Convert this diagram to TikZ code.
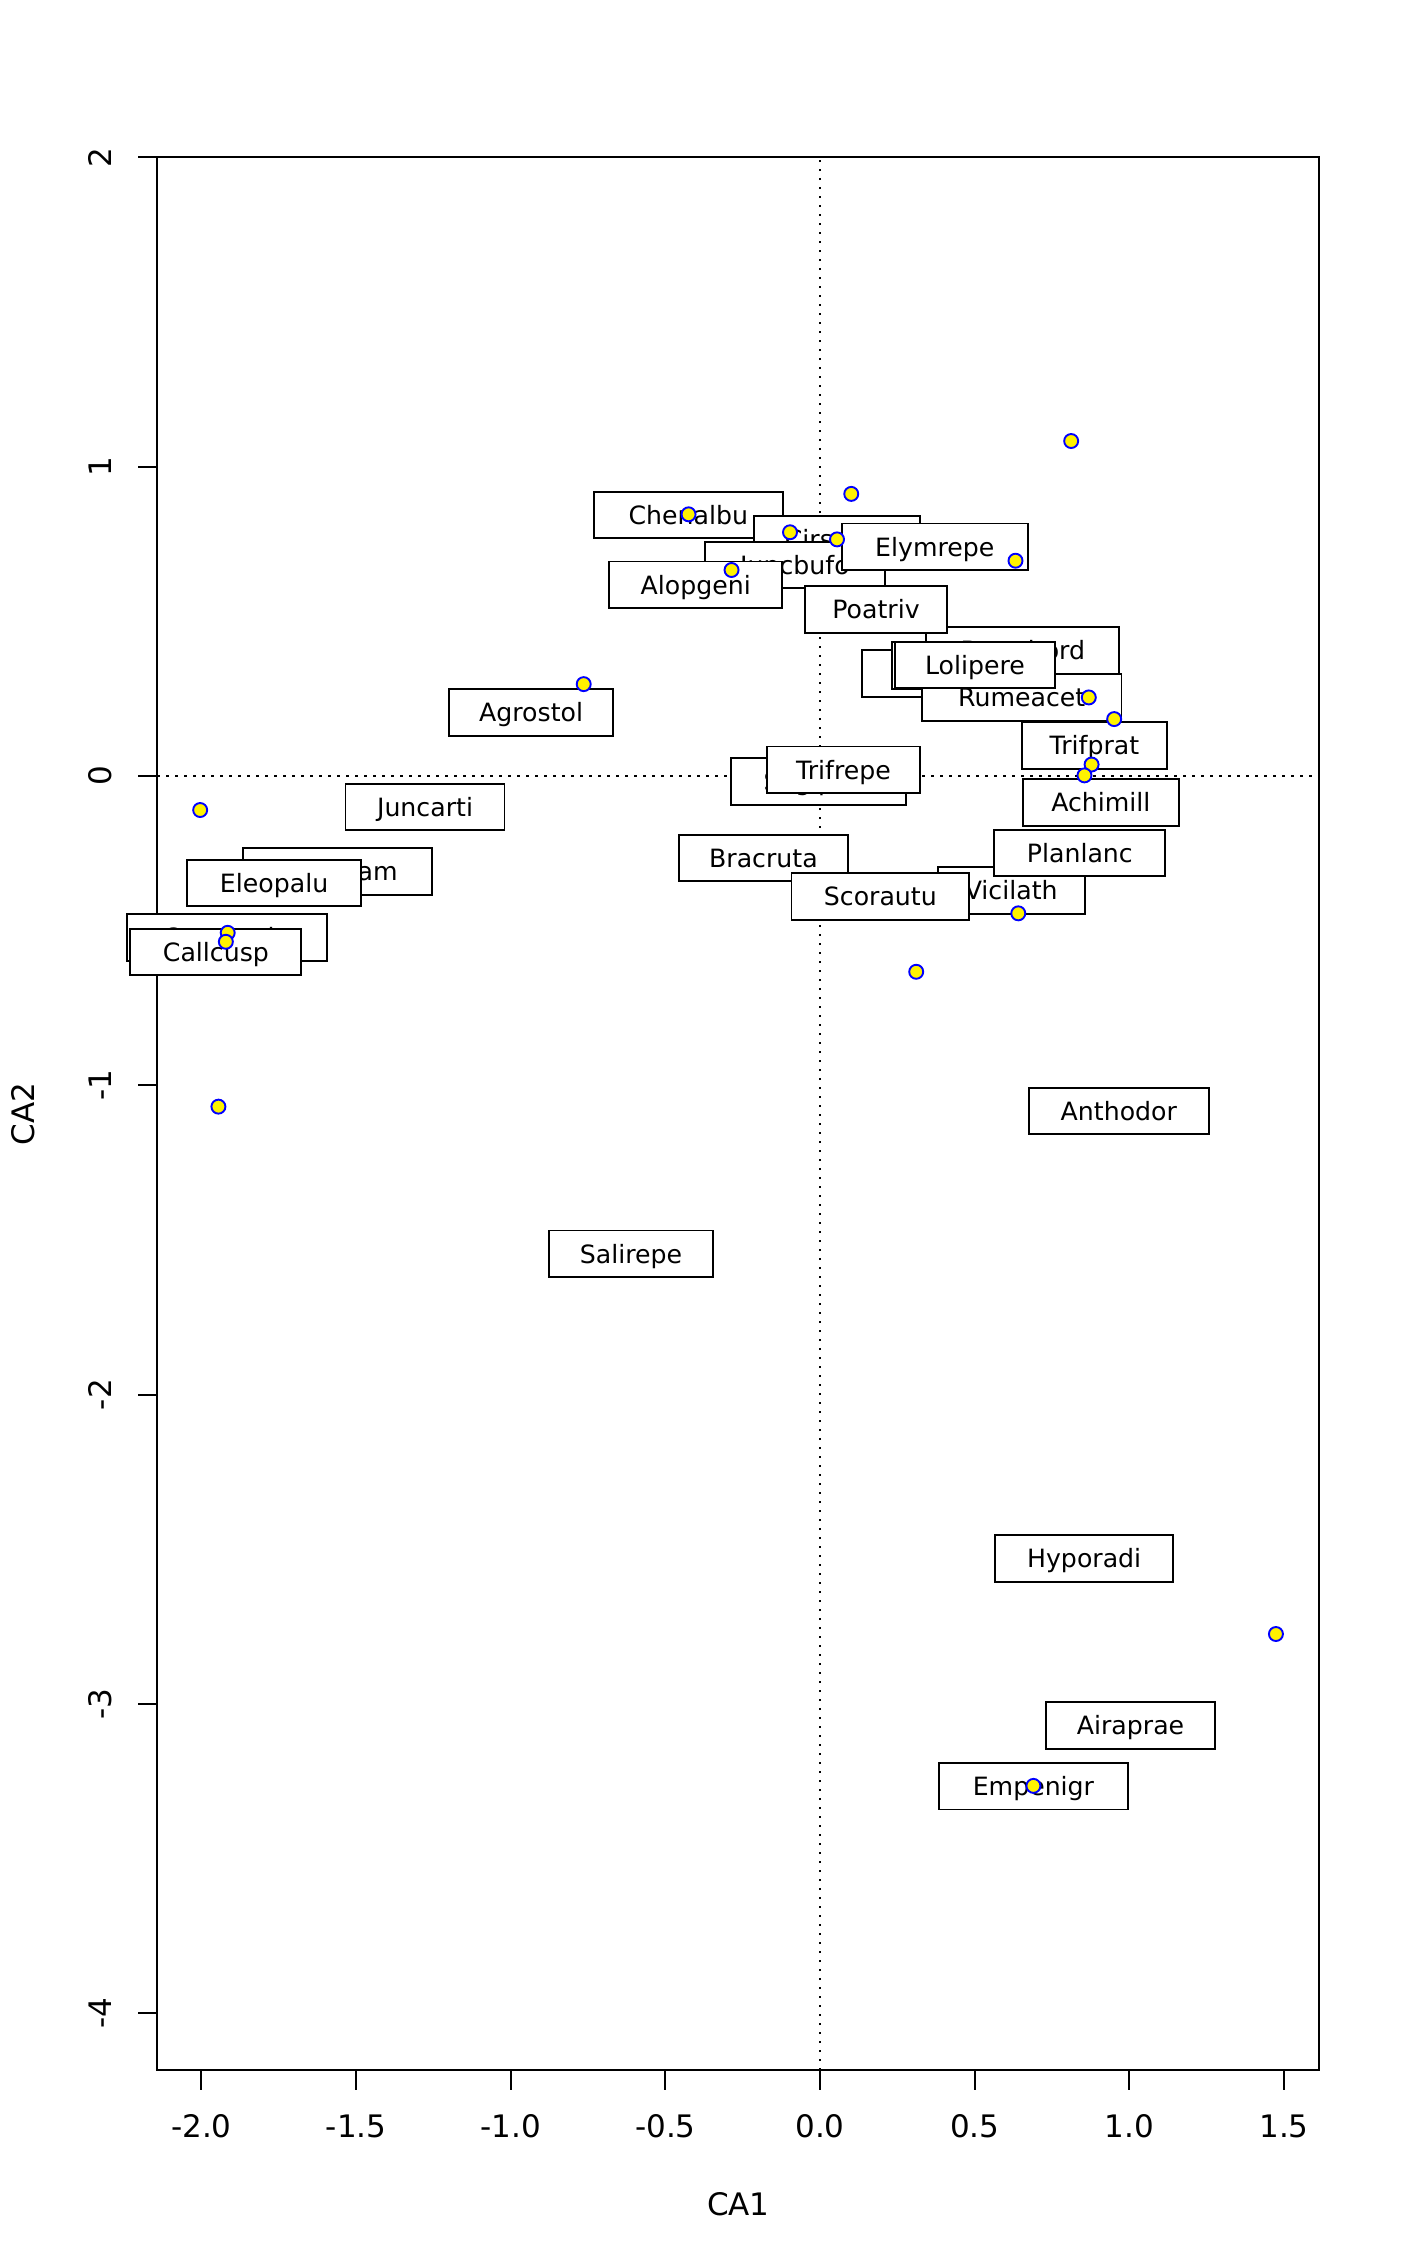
\documentclass[tikz,border=0pt]{standalone}
\usepackage{fontspec}
\setmainfont{DejaVu Sans}

\begin{document}
\begin{tikzpicture}[x=154.65pt, y=154.65pt,
    axisline/.style = {line width=0.95pt},
    zeroline/.style = {line width=0.95pt, dash pattern=on 1.2pt off 3.3pt},
    ticklab/.style = {inner sep=0pt, text height=11.3pt, text depth=0pt,
        font=\fontsize{15.5}{18}\selectfont},
    spec/.style = {draw, fill=white, line width=0.95pt, inner sep=0pt,
        minimum height=23.35pt, text height=9.2pt, text depth=0pt,
        font=\fontsize{12.6}{14}\selectfont},
    site/.style = {circle, draw=blue, fill=yellow, line width=0.95pt,
        inner sep=0pt, minimum size=7pt}]
\useasboundingbox (-2.6512,-4.8173) rectangle (1.8752,2.5089);

\draw[axisline] (-2.1426,-4.1837) rectangle (1.6143,2.0003);
\draw[zeroline] (0,-4.1837) -- (0,2.0003);
\draw[zeroline] (-2.1426,0) -- (1.6143,0);

\foreach \x/\t [count=\i] in {-2/-2.0, -1.5/-1.5, -1/-1.0, -0.5/-0.5,
    0/0.0, 0.5/0.5, 1/1.0, 1.5/1.5} {
    \draw[axisline] (\x,-4.1837) -- (\x,-4.2467);
    \node[ticklab] (xl\i) at (\x,-4.3647) {\t};
}
\foreach \y [count=\i] in {-4,...,2} {
    \draw[axisline] (-2.1426,\y) -- (-2.2056,\y);
    \node[ticklab, rotate=90] (yl\i) at (-2.3279,\y) {\y};
}
\node[ticklab] (xtitle) at (-0.264,-4.619) {CA1};
\node[ticklab, rotate=90] (ytitle) at (-2.576,-1.092) {CA2};

\foreach \n/\x/\y/\w in {
    Chenalbu/-0.426/0.844/94.35,
    Cirsarve/0.055/0.765/83.3,
    Juncbufo/-0.081/0.682/89.95,
    Elymrepe/0.371/0.741/93.2,
    Alopgeni/-0.402/0.618/86.65,
    Bromhord/0.656/0.406/96.5,
    Poatriv/0.181/0.539/71.2,
    Bellpere/0.403/0.331/82.25,
    Poaprat/0.489/0.358/78.95,
    Rumeacet/0.652/0.254/99.85,
    Lolipere/0.501/0.359/80.05,
    Trifprat/0.887/0.098/72.3,
    Achimill/0.908/-0.086/77.8,
    Agrostol/-0.934/0.206/82.25,
    Sagiproc/-0.005/-0.017/87.75,
    Trifrepe/0.076/0.020/76.5,
    Juncarti/-1.277/-0.100/79.5,
    Ranuflam/-1.560/-0.308/94.3,
    Eleopalu/-1.765/-0.346/86.65,
    Comapalu/-1.918/-0.523/99.85,
    Callcusp/-1.953/-0.569/85.5,
    Bracruta/-0.183/-0.265/84.45,
    Vicilath/0.618/-0.371/73.4,
    Scorautu/0.195/-0.389/88.85,
    Planlanc/0.840/-0.249/85.55,
    Anthodor/0.966/-1.083/89.95,
    Salirepe/-0.611/-1.545/82.25,
    Hyporadi/0.854/-2.529/88.8,
    Airaprae/1.004/-3.069/84.45,
    Empenigr/0.690/-3.266/94.3} {
    \node[spec, minimum width=\w pt] (\n) at (\x,\y) {\n};
}

\foreach \px/\py [count=\i] in {0.812/1.083, 0.101/0.912, -0.425/0.846,
    -0.097/0.788, 0.055/0.765, 0.632/0.696, -0.286/0.666, -0.764/0.297,
    0.869/0.254, 0.951/0.184, 0.878/0.037, 0.855/0.002, -2.004/-0.110,
    0.641/-0.444, -1.915/-0.507, -1.921/-0.536, 0.311/-0.633,
    -1.945/-1.069, 1.474/-2.774, 0.690/-3.265} {
    \node[site] (s\i) at (\px,\py) {};
}
\end{tikzpicture}
\end{document}
